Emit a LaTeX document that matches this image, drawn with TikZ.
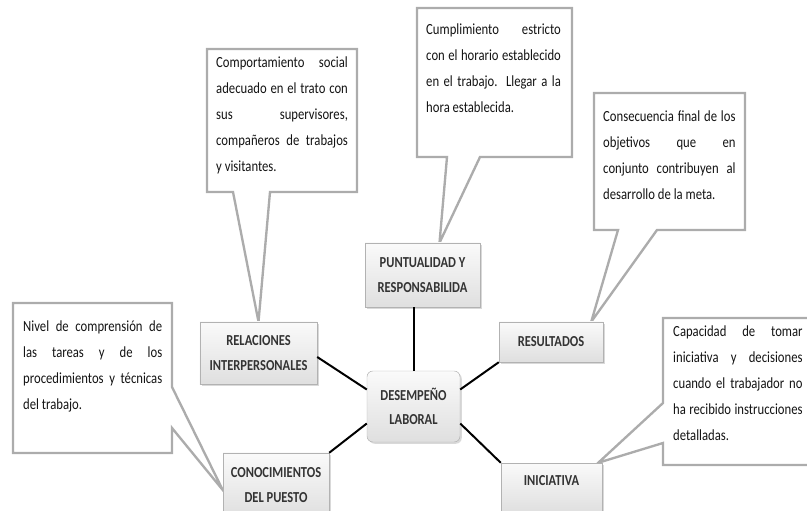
\documentclass[tikz,border=0pt]{standalone}
\usepackage{fontspec}
\setmainfont[FakeStretch=0.82]{Carlito}
\usetikzlibrary{calc,shadows,backgrounds}

\begin{document}
\begin{tikzpicture}[x=0.03cm,y=-0.03cm,
    labelbox/.style={draw=gray!60,top color=gray!4,bottom color=gray!25,
      drop shadow={shadow xshift=1.5pt,shadow yshift=-1.5pt,opacity=0.3},
      align=center,inner sep=0pt,text=black!80,
      font=\fontsize{13}{21}\selectfont\bfseries},
    callout/.style={draw=gray!65,line width=2pt,fill=white,line join=miter},
    calltext/.style={anchor=north west,inner sep=0pt,align=justify,text=black!92,
      font=\fontsize{13.2}{22}\selectfont},
    link/.style={line width=1.7pt}]
	\useasboundingbox (0,0) rectangle (807,511);

	% grey boxes
	\node[labelbox,minimum width=3.45cm,minimum height=1.92cm] (punt) at (422.5,275) {PUNTUALIDAD Y\\RESPONSABILIDA};
	\node[labelbox,minimum width=3.51cm,minimum height=1.86cm] (rel) at (258.5,353) {RELACIONES\\INTERPERSONALES};
	\node[labelbox,minimum width=3.12cm,minimum height=1.2cm] (res) at (551,342) {RESULTADOS};
	\node[labelbox,rounded corners=5pt,minimum width=2.79cm,minimum height=2.13cm] (des) at (413.5,406.5) {DESEMPEÑO\\LABORAL};
	\node[labelbox,minimum width=3.18cm,minimum height=1.92cm] (con) at (276,485) {CONOCIMIENTOS\\DEL PUESTO};
	\node[labelbox,minimum width=3.03cm,minimum height=1.5cm,text height=0.3cm,text depth=0.48cm] (ini) at (551.5,488) {INICIATIVA};

	% lines to the centre
	\draw[link] (des.north) -- (des.north |- punt.south);
	\draw[link] (des.160) -- ($(rel.east)+(0,4)$);
	\draw[link] (des.20) -- (res.south west);
	\draw[link] (des.200) -- (con.north east);
	\draw[link] (des.340) -- (ini.north west);

	% callouts
	\begin{scope}[on background layer]
		\draw[callout] (207,49) -- (357,49) -- (357,192) -- (270,192) -- (rel.north) -- (233,192) -- (207,192) -- cycle;
		\draw[callout] (417,8) -- (572,8) -- (572,157) -- (480,157) -- ($(punt.north)+(17,0)$) -- (447,157) -- (417,157) -- cycle;
		\draw[callout] (594,93) -- (745,93) -- (745,230) -- (657,230) -- ($(res.north east)+(-12,0)$) -- (618,230) -- (594,230) -- cycle;
		\draw[callout] (13,303) -- (172,303) -- (172,387) -- ($(con.west)+(0,5)$) -- (172,428) -- (172,453) -- (13,453) -- cycle;
		\draw[callout] (663,318) -- (830,318) -- (830,465) -- (663,465) -- (663,443) -- ($(ini.north east)+(-4,0)$) -- (663,403) -- cycle;
	\end{scope}

	\node[calltext,text width=3.95cm] (t1) at (216,57) {Comportamiento social\linebreak adecuado en el trato con\linebreak sus supervisores,\linebreak compañeros de trabajos\linebreak y visitantes.};
	\node[calltext,text width=4.04cm] (t2) at (426,24) {Cumplimiento estricto\linebreak con el horario establecido\linebreak en el trabajo. Llegar a la\linebreak hora establecida.};
	\node[calltext,text width=3.97cm] (t3) at (603,111) {Consecuencia final de los\linebreak objetivos que en\linebreak conjunto contribuyen al\linebreak desarrollo de la meta.};
	\node[calltext,text width=4.17cm] (t4) at (23,321) {Nivel de comprensión de\linebreak las tareas y de los\linebreak procedimientos y técnicas\linebreak del trabajo.};
	\node[calltext,text width=3.88cm] (t5) at (673,326) {Capacidad de tomar\linebreak iniciativa y decisiones\linebreak cuando el trabajador no\linebreak ha recibido instrucciones\linebreak detalladas.};
\end{tikzpicture}
\end{document}
